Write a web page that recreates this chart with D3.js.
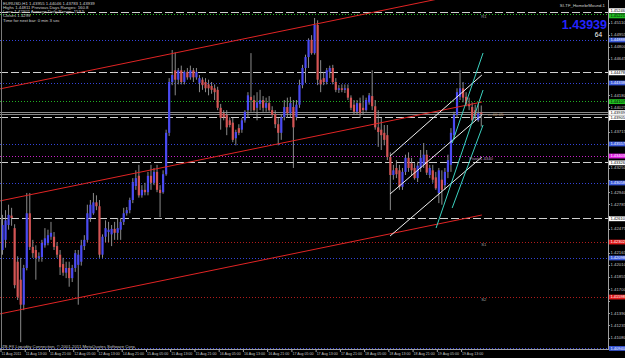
<!DOCTYPE html>
<html>
<head>
<meta charset="utf-8">
<script src="https://cdn.jsdelivr.net/npm/d3@7"></script>
<style>
  body { margin: 0; background: #000; }
  svg { display: block; }
  text { font-family: "Liberation Sans", Arial, sans-serif; }
</style>
</head>
<body>
<svg id="chart" width="625" height="358"></svg>
<script>
// EURUSD H1 bars, 11 Aug 05:00 .. 19 Aug
var opens = [
  1.4220, 1.4233, 1.4252, 1.4264, 1.4248, 1.4205, 1.4182, 1.4150, 1.4197, 1.4267,
  1.4224, 1.4220, 1.4210, 1.4211, 1.4226, 1.4229, 1.4237, 1.4237, 1.4225, 1.4214,
  1.4202, 1.4191, 1.4197, 1.4184, 1.4197, 1.4201, 1.4205, 1.4225, 1.4233, 1.4261,
  1.4267, 1.4281, 1.4276, 1.4214, 1.4237, 1.4243, 1.4240, 1.4247, 1.4242, 1.4246,
  1.4256, 1.4267, 1.4271, 1.4284, 1.4302, 1.4315, 1.4290, 1.4297, 1.4294, 1.4315,
  1.4306, 1.4320, 1.4297, 1.4294, 1.4317, 1.4370, 1.4435, 1.4450, 1.4438, 1.4450,
  1.4435, 1.4448, 1.4441, 1.4450, 1.4441, 1.4434, 1.4438, 1.4435, 1.4432, 1.4430,
  1.4427, 1.4425, 1.4402, 1.4395, 1.4393, 1.4386, 1.4383, 1.4363, 1.4376, 1.4374,
  1.4386, 1.4399, 1.4416, 1.4412, 1.4402, 1.4407, 1.4412, 1.4402, 1.4408, 1.4399,
  1.4394, 1.4381, 1.4370, 1.4390, 1.4403, 1.4395, 1.4403, 1.4390, 1.4406, 1.4431,
  1.4453, 1.4467, 1.4489, 1.4472, 1.4508, 1.4438, 1.4440, 1.4435, 1.4448, 1.4453,
  1.4435, 1.4425, 1.4427, 1.4425, 1.4427, 1.4415, 1.4406, 1.4397, 1.4408, 1.4402,
  1.4399, 1.4409, 1.4417, 1.4404, 1.4377, 1.4374, 1.4370, 1.4367, 1.4339, 1.4316,
  1.4325, 1.4322, 1.4301, 1.4320, 1.4338, 1.4331, 1.4325, 1.4312, 1.4325, 1.4329,
  1.4342, 1.4316, 1.4322, 1.4313, 1.4293, 1.4310, 1.4303, 1.4320, 1.4329, 1.4367,
  1.4393, 1.4416, 1.4427, 1.4416, 1.4407, 1.4403, 1.4399, 1.4386, 1.4396
];
var highs = [
  1.4265, 1.4271, 1.4278, 1.4274, 1.4253, 1.4212, 1.4210, 1.4201, 1.4293, 1.4293,
  1.4233, 1.4226, 1.4217, 1.4233, 1.4248, 1.4246, 1.4256, 1.4243, 1.4230, 1.4220,
  1.4210, 1.4205, 1.4205, 1.4201, 1.4220, 1.4220, 1.4233, 1.4239, 1.4278, 1.4284,
  1.4293, 1.4290, 1.4284, 1.4240, 1.4258, 1.4256, 1.4252, 1.4256, 1.4261, 1.4261,
  1.4274, 1.4275, 1.4287, 1.4312, 1.4322, 1.4329, 1.4303, 1.4306, 1.4320, 1.4329,
  1.4325, 1.4329, 1.4303, 1.4322, 1.4374, 1.4440, 1.4476, 1.4473, 1.4453, 1.4456,
  1.4450, 1.4453, 1.4456, 1.4453, 1.4453, 1.4444, 1.4441, 1.4440, 1.4438, 1.4435,
  1.4432, 1.4429, 1.4407, 1.4399, 1.4399, 1.4390, 1.4389, 1.4374, 1.4381, 1.4389,
  1.4399, 1.4422, 1.4472, 1.4418, 1.4422, 1.4425, 1.4417, 1.4415, 1.4417, 1.4404,
  1.4399, 1.4389, 1.4393, 1.4412, 1.4415, 1.4416, 1.4412, 1.4412, 1.4438, 1.4457,
  1.4470, 1.4491, 1.4495, 1.4517, 1.4514, 1.4463, 1.4448, 1.4453, 1.4456, 1.4457,
  1.4440, 1.4431, 1.4432, 1.4432, 1.4432, 1.4418, 1.4412, 1.4412, 1.4415, 1.4418,
  1.4415, 1.4421, 1.4450, 1.4412, 1.4399, 1.4389, 1.4380, 1.4380, 1.4345, 1.4329,
  1.4335, 1.4329, 1.4325, 1.4342, 1.4345, 1.4338, 1.4331, 1.4333, 1.4348, 1.4357,
  1.4348, 1.4329, 1.4329, 1.4320, 1.4325, 1.4322, 1.4325, 1.4342, 1.4376, 1.4397,
  1.4427, 1.4450, 1.4435, 1.4422, 1.4415, 1.4409, 1.4406, 1.4407, 1.4405
];
var lows = [
  1.4214, 1.4223, 1.4246, 1.4251, 1.4171, 1.4156, 1.4102, 1.4143, 1.4194, 1.4220,
  1.4210, 1.4182, 1.4205, 1.4205, 1.4223, 1.4226, 1.4233, 1.4220, 1.4210, 1.4188,
  1.4187, 1.4184, 1.4173, 1.4179, 1.4192, 1.4150, 1.4200, 1.4220, 1.4230, 1.4256,
  1.4265, 1.4271, 1.4210, 1.4210, 1.4230, 1.4230, 1.4225, 1.4233, 1.4233, 1.4233,
  1.4252, 1.4264, 1.4267, 1.4280, 1.4297, 1.4287, 1.4287, 1.4290, 1.4290, 1.4297,
  1.4303, 1.4294, 1.4262, 1.4292, 1.4315, 1.4366, 1.4431, 1.4418, 1.4432, 1.4432,
  1.4432, 1.4438, 1.4438, 1.4435, 1.4438, 1.4422, 1.4425, 1.4422, 1.4418, 1.4420,
  1.4412, 1.4399, 1.4374, 1.4386, 1.4367, 1.4377, 1.4358, 1.4354, 1.4367, 1.4370,
  1.4383, 1.4389, 1.4397, 1.4397, 1.4386, 1.4399, 1.4397, 1.4397, 1.4397, 1.4389,
  1.4376, 1.4354, 1.4361, 1.4386, 1.4389, 1.4389, 1.4325, 1.4386, 1.4402, 1.4427,
  1.4434, 1.4453, 1.4470, 1.4470, 1.4431, 1.4422, 1.4431, 1.4432, 1.4440, 1.4432,
  1.4422, 1.4421, 1.4422, 1.4421, 1.4412, 1.4399, 1.4393, 1.4393, 1.4389, 1.4393,
  1.4397, 1.4406, 1.4399, 1.4374, 1.4352, 1.4348, 1.4354, 1.4335, 1.4271, 1.4310,
  1.4312, 1.4297, 1.4297, 1.4316, 1.4320, 1.4316, 1.4310, 1.4307, 1.4320, 1.4325,
  1.4316, 1.4312, 1.4306, 1.4297, 1.4280, 1.4278, 1.4297, 1.4312, 1.4320, 1.4361,
  1.4389, 1.4412, 1.4409, 1.4404, 1.4399, 1.4385, 1.4386, 1.4384, 1.4378
];
var closes = [
  1.4252, 1.4258, 1.4265, 1.4261, 1.4175, 1.4160, 1.4150, 1.4197, 1.4267, 1.4224,
  1.4216, 1.4210, 1.4212, 1.4229, 1.4235, 1.4239, 1.4242, 1.4224, 1.4214, 1.4198,
  1.4191, 1.4197, 1.4184, 1.4197, 1.4216, 1.4214, 1.4226, 1.4233, 1.4267, 1.4278,
  1.4281, 1.4276, 1.4214, 1.4237, 1.4248, 1.4246, 1.4247, 1.4242, 1.4248, 1.4256,
  1.4267, 1.4271, 1.4284, 1.4307, 1.4312, 1.4290, 1.4297, 1.4294, 1.4315, 1.4306,
  1.4320, 1.4297, 1.4293, 1.4317, 1.4370, 1.4435, 1.4444, 1.4438, 1.4450, 1.4435,
  1.4448, 1.4441, 1.4450, 1.4441, 1.4448, 1.4440, 1.4431, 1.4427, 1.4427, 1.4425,
  1.4422, 1.4402, 1.4389, 1.4390, 1.4377, 1.4380, 1.4361, 1.4371, 1.4370, 1.4386,
  1.4397, 1.4418, 1.4412, 1.4399, 1.4409, 1.4412, 1.4402, 1.4408, 1.4399, 1.4393,
  1.4381, 1.4370, 1.4390, 1.4403, 1.4395, 1.4408, 1.4377, 1.4406, 1.4431, 1.4453,
  1.4467, 1.4489, 1.4472, 1.4508, 1.4438, 1.4432, 1.4435, 1.4450, 1.4453, 1.4435,
  1.4425, 1.4427, 1.4425, 1.4427, 1.4415, 1.4402, 1.4397, 1.4408, 1.4395, 1.4399,
  1.4412, 1.4418, 1.4404, 1.4377, 1.4371, 1.4367, 1.4361, 1.4339, 1.4316, 1.4322,
  1.4317, 1.4301, 1.4320, 1.4338, 1.4325, 1.4322, 1.4312, 1.4328, 1.4338, 1.4342,
  1.4319, 1.4325, 1.4310, 1.4299, 1.4322, 1.4297, 1.4320, 1.4335, 1.4370, 1.4393,
  1.4422, 1.4427, 1.4415, 1.4407, 1.4404, 1.4386, 1.4392, 1.4395, 1.4394
];

// time axis: one label every 8 bars
var timeLabels = [
  "11 Aug 2011", "11 Aug 13:00", "11 Aug 21:00", "12 Aug 05:00", "12 Aug 13:00",
  "14 Aug 21:00", "15 Aug 05:00", "15 Aug 13:00", "15 Aug 21:00", "16 Aug 05:00",
  "16 Aug 13:00", "16 Aug 21:00", "17 Aug 05:00", "17 Aug 13:00", "17 Aug 21:00",
  "18 Aug 05:00", "18 Aug 13:00", "18 Aug 21:00", "19 Aug 05:00", "19 Aug 13:00"
];
var labelEvery = 8;

var priceTicks = [
  1.41080, 1.41235, 1.41390, 1.41545, 1.41700, 1.41855, 1.42010, 1.42165, 1.42320,
  1.42475, 1.42630, 1.42785, 1.42940, 1.43095, 1.43250, 1.43405, 1.43560, 1.43715,
  1.43870, 1.44025, 1.44180, 1.44335, 1.44490, 1.44645, 1.44800, 1.44955, 1.45110, 1.45265
];

// horizontal levels
var whiteLevels = [1.45246, 1.44478, 1.43905, 1.43326, 1.42610];
var blueLevels = [1.44888, 1.44338, 1.43557, 1.43058, 1.42098, 1.40940];
var greenLevels = [1.45221, 1.44107];
var pivotLevels = [1.43403];
var supportLevels = [1.42302, 1.41598];
var bidAsk = [1.43939, 1.43970];
var bid = 1.43939;

// drawn lines: [bar1, price1, bar2, price2]
var redChannel = [
  [-1, 1.44261, 158.2, 1.45528],
  [-1, 1.42827, 158.2, 1.44094],
  [-1, 1.41381, 158.2, 1.42648]
];
var whiteChannel = [
  [127.9, 1.43403, 158.2, 1.44440],
  [127.9, 1.42917, 158.2, 1.43928],
  [127.9, 1.42379, 158.2, 1.43390]
];
var cyanLines = [
  [148.4, 1.43570, 158.6, 1.44722],
  [143.1, 1.42482, 158.6, 1.44248],
  [148.4, 1.42738, 158.6, 1.43800]
];

var W = 625, H = 358;
var plotRight = 608, plotBottom = 349;
var small = 4.3;

var svg = d3.select("#chart");
svg.append("rect").attr("width", W).attr("height", H).attr("fill", "#000");

var x = d3.scaleLinear().domain([-0.5, 199.5]).range([1, 607]);
var y = d3.scaleLinear().domain([1.40933, 1.45400]).range([plotBottom, 0]);

svg.append("defs").append("clipPath").attr("id", "clip")
  .append("rect").attr("x", 0).attr("y", 0).attr("width", plotRight).attr("height", plotBottom);

var plot = svg.append("g").attr("clip-path", "url(#clip)");

function drawLevels(values, color, dash) {
  plot.selectAll(null)
    .data(values)
    .enter()
    .append("line")
    .attr("x1", 0).attr("x2", plotRight)
    .attr("y1", function(d) { return Math.round(y(d)) + 0.5; })
    .attr("y2", function(d) { return Math.round(y(d)) + 0.5; })
    .attr("stroke", color)
    .attr("stroke-width", 1)
    .attr("stroke-dasharray", dash);
}

drawLevels(blueLevels, "#3444d8", "1,2");
drawLevels(greenLevels, "#22b022", "1,2");
drawLevels(pivotLevels, "#c820c8", "1,2");
drawLevels(supportLevels, "#b01c1c", "1,2");
drawLevels(bidAsk, "#8a8a8a", null);
drawLevels(whiteLevels, "#d0d0d0", "8,3");

// candles
var bars = d3.range(opens.length);

plot.selectAll(".wick")
  .data(bars)
  .enter()
  .append("line")
  .attr("class", "wick")
  .attr("x1", function(i) { return x(i); })
  .attr("x2", function(i) { return x(i); })
  .attr("y1", function(i) { return y(highs[i]); })
  .attr("y2", function(i) { return y(lows[i]); })
  .attr("stroke", "#9a9a9a")
  .attr("stroke-width", 0.9);

plot.selectAll(".body")
  .data(bars)
  .enter()
  .append("rect")
  .attr("class", "body")
  .attr("x", function(i) { return x(i) - 1.1; })
  .attr("width", 2.2)
  .attr("y", function(i) { return y(Math.max(opens[i], closes[i])); })
  .attr("height", function(i) {
    return Math.max(1, Math.abs(y(opens[i]) - y(closes[i])));
  })
  .attr("fill", function(i) {
    if (closes[i] > opens[i]) return "#4a4af2";
    if (closes[i] < opens[i]) return "#d45454";
    return "#9a9a9a";
  });

// trend lines
function drawSegs(segs, color) {
  plot.selectAll(null)
    .data(segs)
    .enter()
    .append("line")
    .attr("x1", function(d) { return x(d[0]); })
    .attr("y1", function(d) { return y(d[1]); })
    .attr("x2", function(d) { return x(d[2]); })
    .attr("y2", function(d) { return y(d[3]); })
    .attr("stroke", color)
    .attr("stroke-width", 1);
}
drawSegs(redChannel, "#e02424");
drawSegs(whiteChannel, "#f2f2f2");
drawSegs(cyanLines, "#3cd2c0");

// object labels
function note(txt, bar, price, dy, color) {
  plot.append("text")
    .attr("x", x(bar)).attr("y", y(price) + dy)
    .attr("font-size", small).attr("fill", color)
    .text(txt);
}
note("R1", 158, greenLevels[0], 4, "#9a9a9a");
note("S1", 158, supportLevels[0], 3.5, "#9a9a9a");
note("S2", 158, supportLevels[1], 3.5, "#9a9a9a");
note("Pivot " + pivotLevels[0].toFixed(4), 154, pivotLevels[0], 3.5, "#b890b8");
note("<--00.05", 160, bid, 1.5, "#b88a60");

// frame
svg.append("line").attr("x1", 1.5).attr("x2", 1.5).attr("y1", 0).attr("y2", plotBottom)
  .attr("stroke", "#7a7a7a");
svg.append("line").attr("x1", 0).attr("x2", plotRight).attr("y1", plotBottom + 0.5).attr("y2", plotBottom + 0.5)
  .attr("stroke", "#a0a0a0");
svg.append("line").attr("x1", plotRight + 0.5).attr("x2", plotRight + 0.5).attr("y1", 0).attr("y2", plotBottom + 1)
  .attr("stroke", "#a0a0a0");

// price axis; a tick label sitting under a level box is hidden, as the terminal does
var boxed = whiteLevels.concat(blueLevels, greenLevels, pivotLevels, supportLevels, [bid]);
var shownTicks = priceTicks.filter(function(t) {
  return !boxed.some(function(b) { return Math.abs(y(b) - y(t)) < 4.5; });
});

var yAxis = svg.append("g");
yAxis.selectAll("text")
  .data(shownTicks)
  .enter()
  .append("text")
  .attr("x", plotRight + 2.5)
  .attr("y", function(d) { return y(d) + 1.5; })
  .attr("font-size", small)
  .attr("fill", "#c4c4c4")
  .text(function(d) { return d.toFixed(5); });
yAxis.selectAll("line")
  .data(priceTicks)
  .enter()
  .append("line")
  .attr("x1", plotRight).attr("x2", plotRight + 2)
  .attr("y1", function(d) { return Math.round(y(d)) + 0.5; })
  .attr("y2", function(d) { return Math.round(y(d)) + 0.5; })
  .attr("stroke", "#a0a0a0");

// level price boxes; close neighbours are nudged apart so both stay readable
function boxes(values, fill, ink, shift) {
  var g = svg.append("g");
  var sel = g.selectAll("g").data(values).enter().append("g")
    .attr("transform", function(d) {
      return "translate(" + (plotRight + 1) + "," + (Math.min(y(d), plotBottom) + shift(d)) + ")";
    });
  sel.append("rect").attr("x", 0).attr("y", -2.4).attr("width", 17).attr("height", 4.8).attr("fill", fill);
  sel.append("text").attr("x", 1.5).attr("y", 1.4).attr("font-size", 4).attr("fill", ink)
    .text(function(d) { return d.toFixed(5); });
}
function none() { return 0; }
boxes(blueLevels, "#3a58d8", "#ffffff", none);
boxes(greenLevels, "#22c022", "#000000", function(d) { return d === greenLevels[0] ? 1.9 : 0.6; });
boxes(pivotLevels, "#e020e0", "#ffffff", none);
boxes(supportLevels, "#e01a1a", "#ffffff", none);
boxes(whiteLevels, "#ffffff", "#000000", function(d) { return d === whiteLevels[0] ? -1.4 : 0.8; });
boxes([bid], "#ffffff", "#000000", function() { return -1.6; });

// time axis
var timeIdx = timeLabels.map(function(d, k) { return k * labelEvery; });
var xAxis = svg.append("g");
xAxis.selectAll("line")
  .data(timeIdx)
  .enter()
  .append("line")
  .attr("x1", function(i) { return x(i) - 1.5; })
  .attr("x2", function(i) { return x(i) - 1.5; })
  .attr("y1", plotBottom).attr("y2", plotBottom + 3)
  .attr("stroke", "#a0a0a0");
xAxis.selectAll("text")
  .data(timeIdx)
  .enter()
  .append("text")
  .attr("x", function(i) { return x(i) - 1; })
  .attr("y", plotBottom + 5.6)
  .attr("font-size", 3.6)
  .attr("fill", "#c4c4c4")
  .text(function(i, k) { return timeLabels[k]; });

// header texts
var info = [
  "EURUSD,H1  1.43955 1.44046 1.43783 1.43939",
  "Highs 1.44811    Previous Days Ranges: 160.8",
  "Lows 1.42302    Average Daily Range: 153.5",
  "Closes 1.4299",
  "Time for next bar: 0 min 3 sec"
];
svg.append("g").selectAll("text")
  .data(info)
  .enter()
  .append("text")
  .attr("x", 3)
  .attr("y", function(d, k) { return [4.5, 8.6, 12.6, 16.6, 21.5][k]; })
  .attr("font-size", small)
  .attr("fill", "#d0d0d0")
  .text(function(d) { return d; });

svg.append("text").attr("x", 605).attr("y", 6.5).attr("text-anchor", "end")
  .attr("font-size", small).attr("fill", "#d0d0d0").text("SI-TF_HomebrMound.1");
svg.append("text").attr("x", 607).attr("y", 29).attr("text-anchor", "end")
  .attr("font-size", 12.5).attr("font-weight", "bold").attr("fill", "#2424ff").text(bid.toFixed(5));
svg.append("text").attr("x", 602).attr("y", 36.5).attr("text-anchor", "end")
  .attr("font-size", 6.5).attr("fill", "#ffffff").text("64");

svg.append("text").attr("x", 2).attr("y", plotBottom - 1.5)
  .attr("font-size", small).attr("fill", "#c4c4c4")
  .text("ZB-FX Liquidity Connection, \u00a9 2001-2011 MetaQuotes Software Corp.");
</script>
</body>
</html>
